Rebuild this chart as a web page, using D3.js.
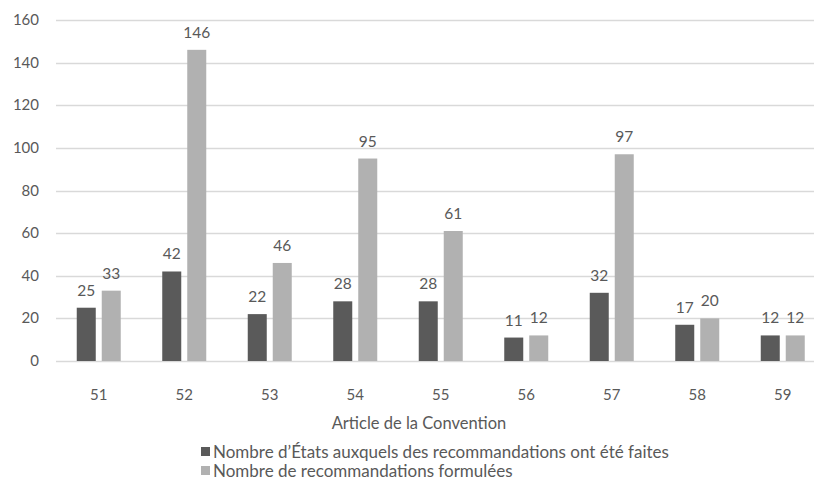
<!DOCTYPE html>
<html>
<head>
<meta charset="utf-8">
<script src="https://cdn.jsdelivr.net/npm/d3@7"></script>
<style>
  body { margin: 0; background: #fff; }
  text { font-family: Lato, "Noto Sans", sans-serif; fill: #595959; }
</style>
</head>
<body>
<svg id="chart" width="814" height="480"></svg>
<script>
// articles de la Convention
const articles = ['51', '52', '53', '54', '55', '56', '57', '58', '59'];
const etats = [25, 42, 22, 28, 28, 11, 32, 17, 12];
const recommandations = [33, 146, 46, 95, 61, 12, 97, 20, 12];
const yTicks = [0, 20, 40, 60, 80, 100, 120, 140, 160];
const seriesNames = [
  'Nombre d\u2019États auxquels des recommandations ont été faites',
  'Nombre de recommandations formulées'
];
const colors = ['#5a5a5a', '#b1b1b1'];

const svg = d3.select('#chart');

const x = d3.scaleBand()
  .domain(articles)
  .range([56, 825.5])
  .padding(0);

const y = d3.scaleLinear()
  .domain([0, 160])
  .range([361, 20]);

const barW = 19;
const gap = 6;

// grille
svg.append('g')
  .selectAll('line')
  .data(yTicks)
  .join('line')
  .attr('x1', 56)
  .attr('x2', 814)
  .attr('y1', d => Math.round(y(d)) + 0.5)
  .attr('y2', d => Math.round(y(d)) + 0.5)
  .attr('stroke', '#d9d9d9')
  .attr('stroke-width', 1.3);

svg.append('g')
  .selectAll('text')
  .data(yTicks)
  .join('text')
  .attr('x', 39)
  .attr('y', d => y(d) + 5)
  .attr('text-anchor', 'end')
  .attr('font-size', 15)
  .text(d => d);

const series = [etats, recommandations];
series.forEach((vals, s) => {
  const offset = s === 0 ? -gap / 2 - barW : gap / 2;
  const g = svg.append('g');
  g.selectAll('rect')
    .data(vals)
    .join('rect')
    .attr('x', (d, i) => x(articles[i]) + x.bandwidth() / 2 + offset)
    .attr('y', d => y(d))
    .attr('width', barW)
    .attr('height', d => y(0) - y(d))
    .attr('fill', colors[s]);
  g.selectAll('text')
    .data(vals)
    .join('text')
    .attr('x', (d, i) => x(articles[i]) + x.bandwidth() / 2 + offset + barW / 2)
    .attr('y', d => y(d) - 12)
    .attr('text-anchor', 'middle')
    .attr('font-size', 15.5)
    .text(d => d);
});

// axe x
svg.append('g')
  .selectAll('text')
  .data(articles)
  .join('text')
  .attr('x', d => x(d) + x.bandwidth() / 2)
  .attr('y', 400)
  .attr('text-anchor', 'middle')
  .attr('font-size', 15)
  .text(d => d);

svg.append('text')
  .attr('x', 419)
  .attr('y', 429)
  .attr('text-anchor', 'middle')
  .attr('font-size', 16.5)
  .text('Article de la Convention');

// légende
const legend = svg.append('g');
seriesNames.forEach((name, i) => {
  const cy = 452 + i * 19;
  legend.append('rect')
    .attr('x', 201)
    .attr('y', cy - 5)
    .attr('width', 9)
    .attr('height', 9)
    .attr('fill', colors[i]);
  legend.append('text')
    .attr('x', 213)
    .attr('y', cy + 5.5)
    .attr('font-size', 17)
    .text(name);
});
</script>
</body>
</html>
